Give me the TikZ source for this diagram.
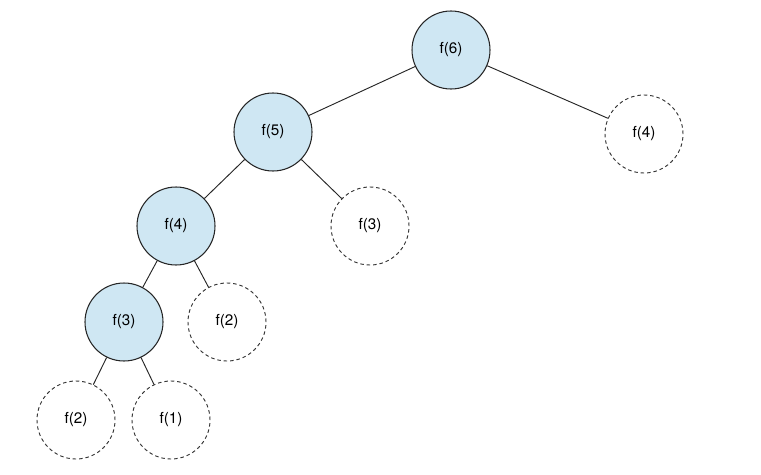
\documentclass[tikz,border=0pt]{standalone}
\usepackage{fontspec}
\setmainfont{TeX Gyre Heros}
\begin{document}
\begin{tikzpicture}[x=0.03cm,y=-0.03cm,
  base/.style={circle,minimum size=2.34cm,inner sep=0pt,font=\fontsize{13}{15}\selectfont},
  call/.style={base,draw=black!85,line width=0.9pt,fill=blue0},
  skip/.style={base,draw=black!80,dashed,line width=0.8pt,dash pattern=on 3pt off 2.5pt},
  edge/.style={draw=black!85,line width=0.8pt}]
\definecolor{blue0}{HTML}{CFE7F3}
\useasboundingbox (0,0) rectangle (761,474);
\node[call] (f6) at (451,50) {f(6)};
\node[call] (f5) at (273,132) {f(5)};
\node[skip] (f4r) at (644,134) {f(4)};
\node[call] (f4) at (176,226) {f(4)};
\node[skip] (f3r) at (370,226) {f(3)};
\node[call] (f3) at (124,322) {f(3)};
\node[skip] (f2r) at (227,322) {f(2)};
\node[skip] (f2) at (76,420) {f(2)};
\node[skip] (f1) at (171,420) {f(1)};
\draw[edge] (f6)--(f5); \draw[edge] (f6)--(f4r);
\draw[edge] (f5)--(f4); \draw[edge] (f5)--(f3r);
\draw[edge] (f4)--(f3); \draw[edge] (f4)--(f2r);
\draw[edge] (f3)--(f2); \draw[edge] (f3)--(f1);
\end{tikzpicture}
\end{document}
